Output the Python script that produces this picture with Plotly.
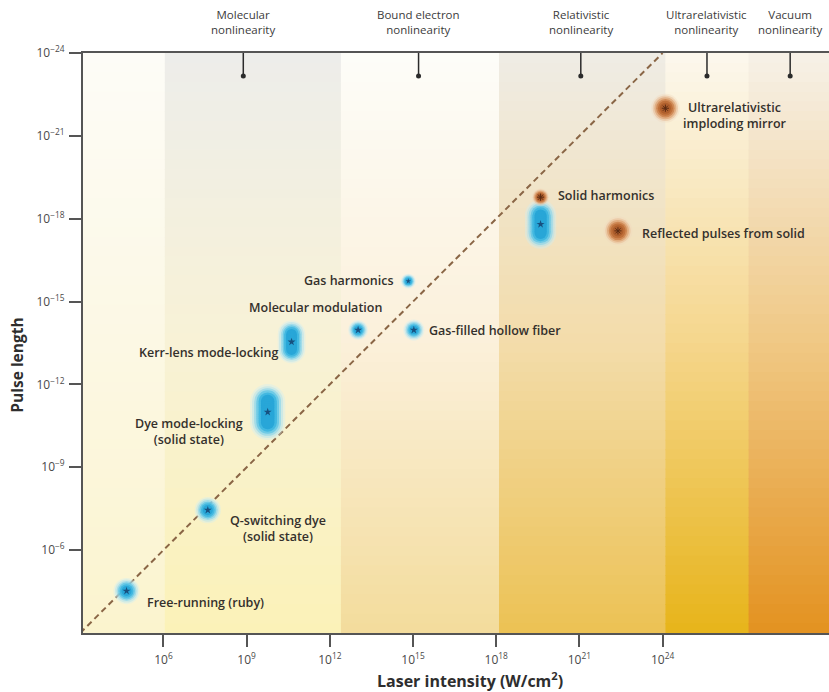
import numpy as np
import plotly.graph_objects as go

# Axes are drawn in decades: x = log10(intensity / W cm^-2), y = log10(pulse length / s)
x_tick_exp = [6, 9, 12, 15, 18, 21, 24]
y_tick_exp = [-24, -21, -18, -15, -12, -9, -6]

# Nonlinearity regimes marked along the top edge
regime_names = ["Molecular<br>nonlinearity", "Bound electron<br>nonlinearity",
                "Relativistic<br>nonlinearity", "Ultrarelativistic<br>nonlinearity",
                "Vacuum<br>nonlinearity"]
regime_exp = [8.88, 15.2, 21.05, 25.6, 28.6]

# Intensity bands shaded behind the plot (edges in decades)
band_edges = [3.1, 6.05, 12.4, 18.1, 24.1, 27.1, 30.0]

# Sources with bound-electron mechanisms (blue)
blue_names = ["Free-running (ruby)", "Q-switching dye<br>(solid state)",
              "Dye mode-locking<br>(solid state)", "Kerr-lens mode-locking",
              "Molecular modulation", "Gas harmonics", "Gas-filled hollow fiber", ""]
blue_x = [4.67, 7.60, 9.76, 10.62, 13.02, 14.83, 15.03, 19.60]
blue_y = [-4.52, -7.45, -11.0, -13.54, -13.97, -15.74, -13.97, -17.80]
blue_spread = [0.0, 0.0, 0.38, 0.28, 0.0, 0.0, 0.0, 0.32]   # half range of pulse length, decades

# Sources driven by plasma / relativistic mechanisms (orange)
orange_names = ["Solid harmonics", "Reflected pulses from solid",
                "Ultrarelativistic<br>imploding mirror"]
orange_x = [19.60, 22.39, 24.10]
orange_y = [-18.78, -17.56, -22.0]
orange_spread = [0.0, 0.0, 0.0]

# Limit line: pulse length x intensity = 1 J/cm^2
limit_x = [3.0, 24.0]
limit_y = [-v for v in limit_x]

# ---- styling ----
blue_size = [21, 21, 28, 22, 16, 12, 17, 25]
orange_size = [14, 23, 23]
blue_label = [("left", 18, -11), ("center", 70, -18), ("center", -79, -19),
              ("right", -12, -11), ("center", -43, 23), ("right", -12, 1),
              ("left", 13, 0), None]
orange_label = [("left", 15, 2), ("left", 22, -3), ("center", 70, -7)]

band_colors = [  # top, middle, bottom
    [(253, 252, 247), (252, 248, 228), (251, 244, 206)],
    [(237, 237, 234), (248, 242, 214), (251, 242, 184)],
    [(253, 253, 249), (251, 240, 218), (243, 220, 156)],
    [(239, 236, 229), (243, 220, 170), (236, 194, 84)],
    [(252, 248, 238), (245, 214, 140), (231, 180, 26)],
    [(246, 241, 232), (240, 200, 132), (227, 146, 32)],
]

FONT = "Open Sans"
TEXT = "#34302c"
Y_TOP, Y_BOT = -24.0, -3.0

fig = go.Figure()

# background gradient bands
shapes = []
n_strip = 60
edges_y = np.linspace(Y_TOP, Y_BOT, n_strip + 1)
for b in range(len(band_edges) - 1):
    top, mid, bot = [np.array(c, float) for c in band_colors[b]]
    for i in range(n_strip):
        t = (i + 0.5) / n_strip
        if t < 0.5:
            c = top + (mid - top) * (t / 0.5)
        else:
            c = mid + (bot - mid) * ((t - 0.5) / 0.5)
        col = "rgb(%d,%d,%d)" % tuple(np.round(c).astype(int))
        shapes.append(dict(type="rect", xref="x", yref="y", layer="below",
                           x0=band_edges[b], x1=band_edges[b + 1] + 0.02,
                           y0=edges_y[i], y1=edges_y[i + 1] + 0.03,
                           fillcolor=col, line=dict(width=0)))

# dashed limit line
fig.add_trace(go.Scatter(x=limit_x, y=limit_y, mode="lines",
                         line=dict(color="#8a6646", width=2, dash="6px,4px"),
                         hoverinfo="skip", showlegend=False))


def glow(xc, yc, spread, size, layers, core):
    if spread > 0:
        ys = list(np.linspace(yc - spread, yc + spread, 11))
    else:
        ys = [yc]
    xs = [xc] * len(ys)
    for scale, color, op in layers:
        fig.add_trace(go.Scatter(x=xs, y=ys, mode="markers", opacity=op,
                                 marker=dict(size=size * scale, color=color, line=dict(width=0)),
                                 hoverinfo="skip", showlegend=False))
    fig.add_trace(go.Scatter(x=[xc], y=[yc], mode="markers",
                             marker=core, hoverinfo="skip", showlegend=False))


blue_layers = [(1.25, "#cdeff7", 0.35), (1.1, "#a6e0f1", 0.4), (0.95, "#79d0ec", 0.5),
               (0.8, "#4cbfe5", 0.6), (0.65, "#30b1df", 0.7), (0.48, "#22a2d6", 0.8)]
orange_layers = [(1.25, "#f1d7bc", 0.35), (1.1, "#e6b48a", 0.45), (0.95, "#d99661", 0.55),
                 (0.8, "#c97b44", 0.7), (0.65, "#bb6a34", 0.8), (0.48, "#ac5b2a", 0.85)]

for i in range(len(blue_x)):
    glow(blue_x[i], blue_y[i], blue_spread[i], blue_size[i], blue_layers,
         dict(symbol="star", size=6 if blue_size[i] > 14 else 4, color="#17507f", line=dict(width=0)))
for i in range(len(orange_x)):
    glow(orange_x[i], orange_y[i], orange_spread[i], orange_size[i], orange_layers,
         dict(symbol="asterisk-open", size=6, color="#5a2a12", line=dict(width=1, color="#5a2a12")))

# regime markers along the top
rx, ry = [], []
for v in regime_exp:
    rx += [v, v, None]
    ry += [Y_TOP, -23.17, None]
fig.add_trace(go.Scatter(x=rx, y=ry, mode="lines", line=dict(color="#2b2b2b", width=1.5),
                         hoverinfo="skip", showlegend=False, cliponaxis=False))
fig.add_trace(go.Scatter(x=regime_exp, y=[-23.17] * len(regime_exp), mode="markers",
                         marker=dict(size=5, color="#2b2b2b"), hoverinfo="skip",
                         showlegend=False))

annotations = []
for name, v in zip(regime_names, regime_exp):
    annotations.append(dict(x=v, y=1, xref="x", yref="paper", text=name, showarrow=False,
                            xanchor="center", yanchor="bottom", yshift=14, align="center",
                            font=dict(family=FONT, size=11.5, color="#3c3c3c")))


def add_labels(names, xs, ys, specs):
    for name, xv, yv, spec in zip(names, xs, ys, specs):
        if not spec or not name:
            continue
        anchor, dx, dy = spec
        annotations.append(dict(x=xv, y=yv, xref="x", yref="y", text=name, showarrow=False,
                                xanchor=anchor, yanchor="middle", xshift=dx, yshift=dy,
                                align="center",
                                font=dict(family=FONT, size=12.5, color=TEXT, weight=600)))


add_labels(blue_names, blue_x, blue_y, blue_label)
add_labels(orange_names, orange_x, orange_y, orange_label)

# axis titles
annotations.append(dict(x=0.519, y=-0.081, xref="paper", yref="paper",
                        text="<b>Laser intensity (W/cm<sup>2</sup>)</b>", showarrow=False,
                        xanchor="center", yanchor="middle",
                        font=dict(family=FONT, size=16, color="#2e2e2e")))
annotations.append(dict(x=-0.089, y=0.462, xref="paper", yref="paper",
                        text="<b>Pulse length</b>", showarrow=False, textangle=-90,
                        xanchor="center", yanchor="middle",
                        font=dict(family=FONT, size=15.5, color="#2e2e2e")))

fig.update_layout(
    width=829, height=692,
    margin=dict(l=83, r=0, t=53, b=59),
    paper_bgcolor="white", plot_bgcolor="white",
    shapes=shapes, annotations=annotations, showlegend=False,
    xaxis=dict(range=[band_edges[0], band_edges[-1]], tickvals=x_tick_exp,
               ticktext=["10<sup>%d</sup>" % e for e in x_tick_exp],
               showgrid=False, zeroline=False, showline=True, linecolor="#555",
               linewidth=2, mirror=True, ticks="outside", ticklen=12, tickwidth=1.5,
               tickcolor="#555", ticklabelstandoff=3,
               tickfont=dict(family=FONT, size=12, color="#4a4a4a"),
               fixedrange=True),
    yaxis=dict(range=[Y_BOT, Y_TOP], tickvals=y_tick_exp,
               ticktext=["10<sup>\u2212%d</sup>" % (-e) for e in y_tick_exp],
               showgrid=False, zeroline=False, showline=True, linecolor="#555",
               linewidth=2, ticks="outside", ticklen=12, tickwidth=1.5,
               tickcolor="#555", ticklabelstandoff=2,
               tickfont=dict(family=FONT, size=12, color="#4a4a4a"),
               fixedrange=True),
)

fig.write_html("out.html")
